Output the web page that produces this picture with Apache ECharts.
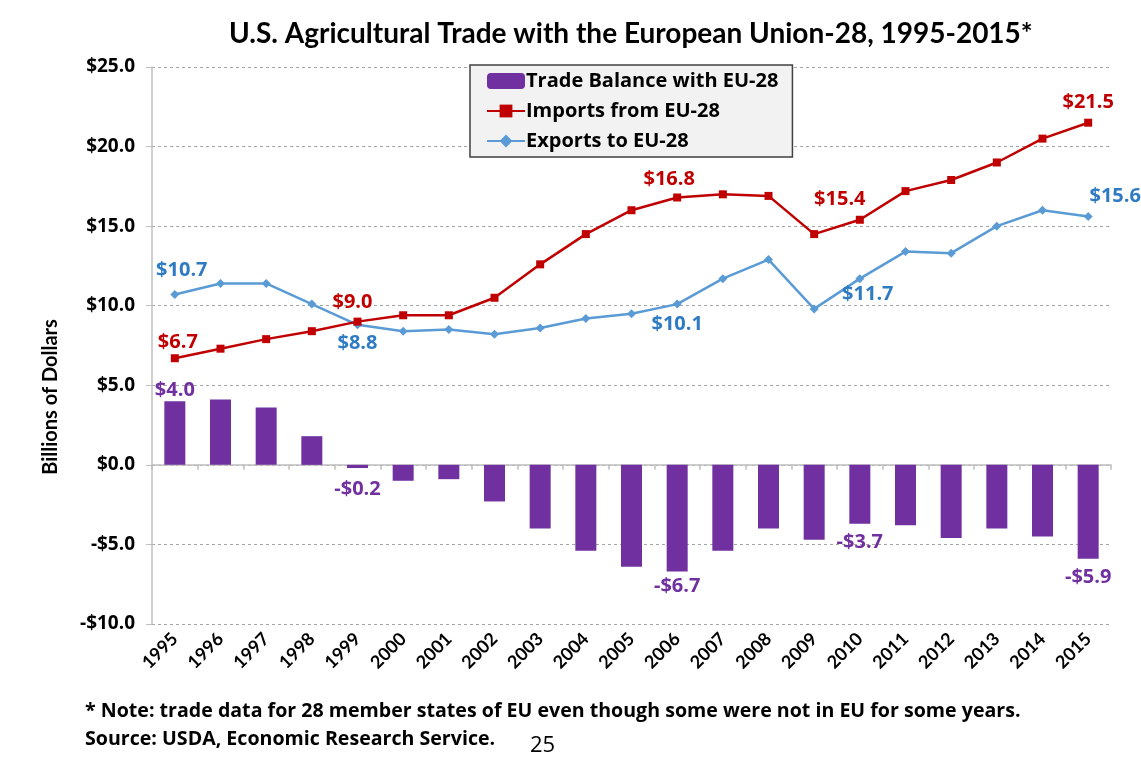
<!doctype html>
<html>
<head>
<meta charset="UTF-8">
<title>U.S. Agricultural Trade with the EU-28</title>
<script src="https://cdn.jsdelivr.net/npm/echarts@6/dist/echarts.min.js"></script>
<style>
  body { margin: 0; background: #fff; }
  #chart { width: 1141px; height: 774px; }
</style>
</head>
<body>
<div id="chart"></div>
<script>
var years = ['1995','1996','1997','1998','1999','2000','2001','2002','2003','2004','2005',
             '2006','2007','2008','2009','2010','2011','2012','2013','2014','2015'];
var balance = [4.0, 4.1, 3.6, 1.8, -0.2, -1.0, -0.9, -2.3, -4.0, -5.4, -6.4,
               -6.7, -5.4, -4.0, -4.7, -3.7, -3.8, -4.6, -4.0, -4.5, -5.9];
var imports = [6.7, 7.3, 7.9, 8.4, 9.0, 9.4, 9.4, 10.5, 12.6, 14.5, 16.0,
               16.8, 17.0, 16.9, 14.5, 15.4, 17.2, 17.9, 19.0, 20.5, 21.5];
var exports = [10.7, 11.4, 11.4, 10.1, 8.8, 8.4, 8.5, 8.2, 8.6, 9.2, 9.5,
               10.1, 11.7, 12.9, 9.8, 11.7, 13.4, 13.3, 15.0, 16.0, 15.6];
var yTicks = [-10, -5, 0, 5, 10, 15, 20, 25];

var TITLE_FONT = 'Lato';
var FONT = 'Open Sans';
var PURPLE = '#7030a0', RED = '#c00000', BLUE = '#5b9bd5', BLUE_TXT = '#2e7bc4';

var W = 1141, H = 774;
var GRID = { left: 152, right: 30, top: 67, bottom: 150 };
var Y_MIN = -10, Y_MAX = 25;
// second (empty) grid whose bottom edge falls on $0, to carry the category axis line + ticks
var zeroUp = (H - GRID.top - GRID.bottom) * (0 - Y_MIN) / (Y_MAX - Y_MIN);
var ZERO_GRID = { left: GRID.left, right: GRID.right, top: GRID.top, bottom: GRID.bottom + zeroUp };

function money(v) {
  return (v < 0 ? '-$' : '$') + Math.abs(v).toFixed(1);
}

// which points get a value label, and where
function labelled(values, spots, color) {
  return values.map(function (v, i) {
    var s = spots[i];
    if (!s) return v;
    return {
      value: v,
      label: {
        show: true, position: s[0], offset: s[1] || [0, 0], distance: s[2] || 6,
        formatter: function (p) { return money(p.value); },
        color: color, fontFamily: FONT, fontWeight: 'bold', fontSize: 20
      }
    };
  });
}

var balSpots = { 0: ['top', [0, 0], 1], 4: ['bottom', [0, 0], 11], 11: ['bottom', [0, 0], 5],
                 15: ['bottom', [0, 0], 9], 20: ['bottom', [0, 0], 9] };
var impSpots = { 0: ['top', [3, 0], 2], 4: ['top', [-5, 0], 5], 11: ['top', [-8, 0], 4],
                 15: ['top', [-20, 0], 6], 20: ['top', [0, 0], 6] };
var expSpots = { 0: ['top', [7, 0], 10], 4: ['bottom', [0, 0], 4], 11: ['bottom', [0, 0], 6],
                 15: ['bottom', [8, 0], 1], 20: ['top', [27, 0], 6] };

var chart = echarts.init(document.getElementById('chart'));

var option = {
  animation: false,
  backgroundColor: '#fff',
  textStyle: { fontFamily: FONT },
  title: {
    text: 'U.S. Agricultural Trade with the European Union-28, 1995-2015*',
    left: 224, top: 15,
    textStyle: { fontFamily: TITLE_FONT, fontWeight: 'bold', fontSize: 28, color: '#000' }
  },
  legend: {
    left: 470, top: 65, orient: 'vertical',
    backgroundColor: '#f2f2f2', borderColor: '#404040', borderWidth: 1.5,
    padding: [6, 14, 6, 16], itemGap: 10, itemWidth: 38, itemHeight: 16,
    textStyle: { fontFamily: FONT, fontWeight: 'bold', fontSize: 20, color: '#000', padding: [0, 0, 0, -4] },
    data: ['Trade Balance with EU-28', 'Imports from EU-28', 'Exports to EU-28']
  },
  grid: [GRID, ZERO_GRID],
  xAxis: [
    {
      type: 'category', data: years, gridIndex: 0,
      axisLine: { show: false, onZero: false }, axisTick: { show: false },
      axisLabel: { rotate: 45, interval: 0, margin: 12, color: '#000',
                   fontFamily: TITLE_FONT, fontWeight: 'bold', fontSize: 18 }
    },
    {
      type: 'category', data: years, gridIndex: 1,
      axisLine: { show: true, onZero: false, lineStyle: { color: '#bfbfbf', width: 1.5 } },
      axisTick: { show: true, length: 5, lineStyle: { color: '#bfbfbf', width: 1.5 } },
      axisLabel: { show: false }
    }
  ],
  yAxis: [
    {
      type: 'value', min: Y_MIN, max: Y_MAX, interval: 5, gridIndex: 0,
      axisLine: { show: true, lineStyle: { color: '#bfbfbf', width: 1.5 } },
      axisTick: { show: true, length: 6, lineStyle: { color: '#bfbfbf' } },
      axisLabel: {
        color: '#000', fontFamily: FONT, fontWeight: 'bold', fontSize: 19, margin: 17,
        customValues: yTicks,
        formatter: money
      },
      splitLine: { show: true, lineStyle: { color: '#a6a6a6', type: [3, 3] } }
    },
    {
      type: 'value', min: 0, max: 1, gridIndex: 1, show: false
    }
  ],
  graphic: [
    {
      type: 'text', x: 51, y: 397, rotation: Math.PI / 2,
      style: { text: 'Billions of Dollars', fill: '#000', font: 'bold 20px Lato',
               textAlign: 'center', textVerticalAlign: 'middle' }
    },
    {
      type: 'text', left: 85, top: 701,
      style: { text: '* Note: trade data for 28 member states of EU even though some were not in EU for some years.',
               fill: '#000', font: 'bold 19.6px "Open Sans"' }
    },
    {
      type: 'text', left: 85, top: 729,
      style: { text: 'Source: USDA, Economic Research Service.', fill: '#000', font: 'bold 19.6px "Open Sans"' }
    },
    {
      type: 'text', left: 530, top: 735,
      style: { text: '25', fill: '#000', font: '22px "Open Sans"' }
    }
  ],
  series: [
    {
      name: 'Trade Balance with EU-28', type: 'bar', xAxisIndex: 0, yAxisIndex: 0,
      barWidth: 21,
      itemStyle: { color: PURPLE },
      data: labelled(balance, balSpots, PURPLE)
    },
    {
      name: 'Imports from EU-28', type: 'line', xAxisIndex: 0, yAxisIndex: 0,
      symbol: 'rect', symbolSize: 8,
      lineStyle: { color: RED, width: 2.5 },
      itemStyle: { color: RED },
      data: labelled(imports, impSpots, RED),
      z: 4
    },
    {
      name: 'Exports to EU-28', type: 'line', xAxisIndex: 0, yAxisIndex: 0,
      symbol: 'diamond', symbolSize: 9,
      lineStyle: { color: BLUE, width: 2.5 },
      itemStyle: { color: BLUE },
      data: labelled(exports, expSpots, BLUE_TXT),
      z: 3
    }
  ]
};

chart.setOption(option);
</script>
</body>
</html>
